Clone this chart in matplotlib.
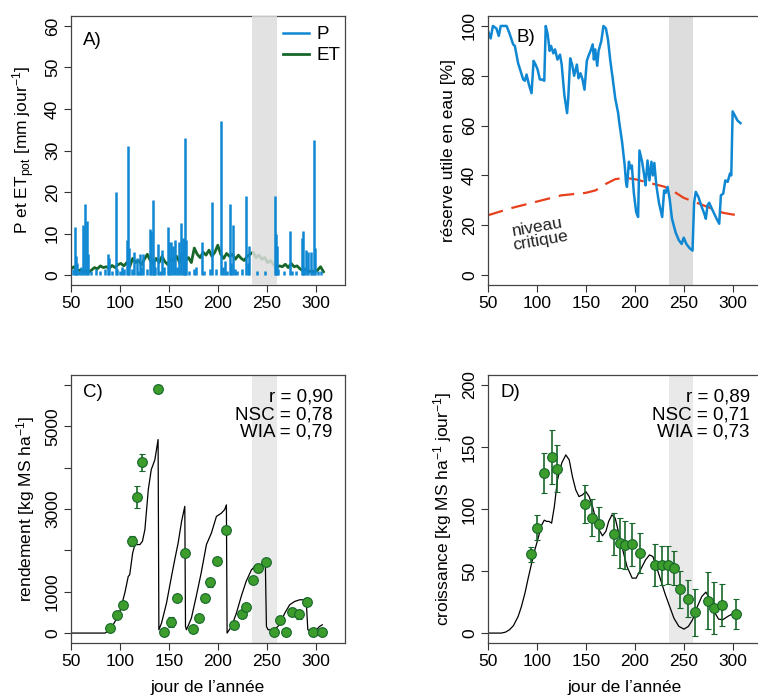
import matplotlib
matplotlib.use("Agg")
import matplotlib.pyplot as plt
from matplotlib import font_manager

# font: narrow sans if available
names = set(f.name for f in font_manager.fontManager.ttflist)
fam = "Liberation Sans Narrow" if "Liberation Sans Narrow" in names else "Liberation Sans"
plt.rcParams['font.family'] = [fam, 'DejaVu Sans']
plt.rcParams['mathtext.fontset'] = 'custom'
plt.rcParams['mathtext.rm'] = fam
plt.rcParams['mathtext.it'] = fam + ':italic'
plt.rcParams['mathtext.default'] = 'rm'
plt.rcParams['axes.unicode_minus'] = False

BLUE = "#0f87d2"
DGREEN = "#17672a"
PGREEN = "#3c9c2c"
RED = "#e8401c"
BAND = "#dcdddc"
BAND2 = "#e9e9e9"
FS = 12.5

# ---- A) precipitation and ET
p_days = [52, 54, 55, 56, 58, 60, 62, 64, 66, 67, 70, 76, 80, 85, 88, 89, 92, 96, 97, 100,
          102, 104, 107, 108, 109, 112, 114, 117, 118, 120, 122, 124, 128, 131, 132, 134, 135,
          136, 139, 141, 143, 145, 149, 150, 152, 154, 156, 158, 160, 162, 164, 165, 167, 168,
          171, 176, 178, 184, 186, 192, 194, 198, 203, 205, 207, 209, 212, 214, 216, 218, 220,
          225, 229, 231, 232, 240, 248, 258, 259, 261, 262, 268, 274, 276, 280, 286, 287, 288,
          290, 292, 295, 296, 298, 299, 302, 305]
p_vals = [1.5, 11.5, 4.5, 3.0, 1.0, 2.0, 12.0, 17.0, 13.0, 5.0, 1.0, 1.5, 1.0, 1.5, 5.0, 4.0,
          1.0, 20.0, 1.5, 1.0, 2.0, 1.5, 8.5, 31.0, 6.5, 1.5, 5.5, 4.0, 1.0, 5.0, 2.0, 5.0, 1.5,
          11.0, 10.5, 18.0, 4.0, 2.0, 7.5, 1.0, 6.0, 2.0, 11.5, 8.0, 8.0, 7.0, 8.5, 2.0, 8.0,
          12.5, 9.0, 8.5, 33.0, 8.5, 1.0, 1.5, 2.0, 8.0, 1.0, 1.5, 17.5, 1.5, 37.0, 2.0, 3.5,
          1.0, 17.0, 3.0, 12.0, 1.5, 1.0, 1.5, 19.0, 3.0, 7.0, 1.0, 1.0, 19.0, 10.0, 7.0, 1.5,
          1.0, 10.5, 1.0, 1.0, 9.0, 10.5, 2.0, 6.0, 5.5, 5.5, 1.0, 32.5, 6.5, 1.0, 1.0]

et_days = list(range(50, 309, 3))
et_vals = [1.5, 2.0, 1.0, 1.2, 0.8, 0.9, 0.7, 1.2, 1.8, 1.5, 2.2, 1.8, 2.0, 1.6, 2.3, 1.8,
           2.5, 2.8, 2.2, 3.0, 2.0, 4.0, 3.0, 3.5, 2.5, 3.8, 5.0, 3.5, 2.8, 4.0, 3.0, 4.5,
           3.2, 2.5, 4.0, 3.5, 4.5, 3.0, 5.0, 3.5, 4.2, 3.0, 6.5, 5.0, 4.2, 5.5, 4.8, 6.0,
           4.5, 5.5, 7.2, 5.0, 4.0, 5.2, 4.5, 5.0, 3.8, 4.8, 4.0, 3.5, 4.5, 5.0, 5.5, 4.2,
           4.8, 3.8, 4.2, 3.0, 3.5, 2.5, 1.8, 2.2, 2.0, 2.6, 1.8, 2.8, 2.0, 2.2, 1.5, 1.0,
           1.3, 0.8, 1.0, 0.7, 1.2, 2.0, 0.8]

# ---- B) soil water reserve
w_days = [50, 52.7, 55, 58.6, 61, 63, 69, 72, 75.7, 77.4, 80.8, 86, 87.7, 89.4, 91.8, 94.5,
          96.6, 98.6, 100.7, 103, 105.5, 107.5, 109, 111, 113, 114.4, 116.8, 118.5, 121,
          123.6, 125.3, 128, 130.8, 132, 134, 136, 138, 140.8, 142.5, 144.5, 146.6, 148.6,
          151, 152.7, 154.8, 157, 158.2, 159.6, 161.6, 163, 165.8, 168, 170.5, 172.6, 175,
          177.4, 180, 183, 184, 187, 189.7, 191, 192, 194, 195.5, 197, 199, 201.4, 203.4,
          204.8, 207.5, 209.6, 211, 213, 215, 217, 218.5, 220, 222, 224.7, 228, 230, 231.5,
          233.5, 235.6, 238, 241.8, 245, 247.9, 250, 252.7, 256, 259, 260.6, 262.3, 265,
          267.8, 271, 272.6, 274.3, 276, 279.5, 283.6, 286.3, 288, 290.4, 292.5, 294.9,
          297.3, 298.6, 300, 302.7, 305, 308]
w_vals = [98, 95, 100, 99, 96, 100, 100, 97, 92.6, 92, 85, 78.5, 78, 80.5, 76.5, 73, 86, 84.5,
          82.5, 78.5, 78.5, 78, 100, 96.6, 90, 92, 89, 90.6, 86.5, 88.5, 84.5, 72.4, 65, 71,
          87, 84.5, 80, 84.5, 79, 81, 78.5, 74.4, 86, 88, 90, 92.6, 86.5, 90.6, 84, 90, 94,
          100, 99, 94.6, 86, 79, 71, 65, 61.6, 53.5, 44, 37.4, 35.4, 45.5, 42.8, 44, 33, 25.3,
          23.3, 50, 45.5, 40, 36, 46, 38, 45.5, 40, 45, 36, 29, 23.3, 34, 33, 35.4, 30.7, 22.6,
          17, 14, 12.5, 15, 12.5, 10.8, 9.8, 29, 33.4, 31.4, 28, 24.6, 22.6, 28, 29, 26, 22.6,
          20.6, 32, 32.7, 38, 37.4, 40.8, 40, 65.7, 63.7, 62, 61]
crit_days = [50, 75, 100, 125, 150, 160, 170, 180, 190, 200, 215, 230, 240, 250, 260, 270,
             280, 290, 300, 308]
crit_vals = [24, 27, 29.5, 32, 33, 34, 36.5, 38.5, 39, 38.5, 37, 35.5, 33.5, 31, 29.5, 28,
             26.5, 25, 24.3, 24]

# ---- C) yield
yld_days = [50, 84.7, 89.8, 95, 100, 105, 108.5, 110, 113, 115.3, 120.4, 123, 125.5, 129, 132,
            135.7, 139, 139.8, 142.5, 147.6, 152.7, 156, 159.5, 163, 166.3, 167, 168, 173, 178,
            183, 188.4, 193.5, 198.6, 203.7, 207, 208.8, 209.5, 214, 219, 224, 229, 234.4,
            239.5, 244.6, 248.6, 249.7, 251.4, 258, 263, 268.4, 273.5, 278.6, 283.7, 288.8,
            290.5, 292, 295.6, 300.7, 304, 306.8]
yld_sim = [0, 0, 80, 280, 525, 970, 1370, 1410, 1935, 2140, 2140, 2220, 2500, 3470, 3950, 4190,
           4680, 80, 240, 725, 1370, 1775, 2180, 2700, 3065, 160, 80, 360, 890, 1450, 2140,
           2420, 2820, 2900, 2985, 3100, 0, 160, 480, 890, 1250, 1530, 1650, 1610, 1690, 160,
           80, 80, 200, 480, 685, 765, 805, 805, 725, 80, 40, 80, 160, 200]
yld_obs_days = [89.8, 96.6, 102.7, 112, 117.3, 122.8, 139, 144.6, 152.7, 158.8, 166.7, 174.5,
                180.6, 187.4, 192.5, 199.7, 208.5, 216.7, 224.5, 228.6, 236.4, 241.5, 249.3,
                257, 263.3, 270, 276.2, 283.3, 291.2, 297.3, 307]
yld_obs = [120, 440, 670, 2225, 3290, 4130, 5910, 15, 260, 840, 1935, 110, 360, 850, 1225,
           1750, 2490, 200, 460, 620, 1275, 1580, 1710, 15, 305, 15, 515, 460, 760, 15, 25]
yld_err = [40, 40, 40, 130, 260, 200, 100, 20, 120, 40, 40, 30, 40, 40, 110, 40, 100, 30, 80,
           40, 40, 100, 40, 20, 60, 20, 80, 110, 80, 20, 20]

# ---- D) growth rate
gr_days = [50, 63.7, 68, 72, 76, 80.8, 84, 87.7, 91, 94.5, 97.5, 100.7, 104.8, 107.5, 110,
           112.3, 115, 117.8, 121, 125.3, 129.5, 133, 136.3, 139.7, 143, 146.6, 150, 153.4,
           156.8, 160.3, 163.7, 167, 170.5, 173.3, 176.7, 180, 183.6, 187.7, 192, 197.3,
           201.4, 205.8, 211, 215, 218.5, 222, 226.4, 230.8, 235.6, 240, 245, 250.3, 254.8,
           259, 264, 268.5, 272.6, 276.7, 281, 285.6, 289.7, 295, 300, 305, 308.5]
gr_sim = [0, 0, 0.8, 2.7, 6, 13.4, 21, 32, 44, 56, 66, 75, 87, 91, 90, 90, 88.6, 102, 123.5,
          137, 143.6, 139.6, 126, 115.4, 110, 111.4, 114, 110, 102, 91.3, 83, 78.4, 82, 90,
          95.3, 92.6, 80.5, 67, 53.7, 44.3, 44.3, 51, 59, 63, 61.7, 53.7, 43, 32, 21.5, 12,
          5.4, 3.2, 5.4, 10.7, 21.5, 29.5, 33, 28, 17.4, 11.3, 10.7, 13.4, 15.6, 16.6, 16]
gr_obs_days = [93.8, 100.3, 107.5, 115, 120.5, 149, 156, 163, 178.4, 185, 190.4, 197, 205,
               221, 228, 233.6, 239.7, 246.6, 254.5, 261.6, 274.7, 281, 288.7, 303.4]
gr_obs = [63.6, 85, 129, 142, 132.6, 104, 93, 88, 80, 72.5, 71, 71.4, 64.4, 55, 54.5, 54.8,
          52.6, 35.2, 27.6, 16.6, 26, 20, 22.5, 15.3]
gr_err = [6, 10, 16.5, 22, 19, 15, 15, 14, 17, 20, 19, 17, 16, 17, 16, 15.5, 13.5, 15, 15, 19,
          23, 21, 17, 12]

band = (235, 260)
xticks = [50, 100, 150, 200, 250, 300]


def style(ax, yticks, ylabels=None):
    ax.set_xlim(50, 330)
    ax.set_xticks(xticks)
    ax.set_yticks(yticks)
    if ylabels is not None:
        ax.set_yticklabels(ylabels)
    ax.tick_params(direction='out', length=5, width=0.8, color='#333333', labelsize=FS,
                   pad=3)
    for lab in ax.get_yticklabels():
        lab.set_rotation(90)
        lab.set_va('center')
    for s in ax.spines.values():
        s.set_color('#444444')
        s.set_linewidth(0.9)


fig = plt.figure(figsize=(7.58, 6.97), dpi=100)
W = 274 / 758
H1 = 269 / 697

# A
axA = fig.add_axes([71 / 758, 1 - 285 / 697, W, H1])
axA.plot(et_days, et_vals, color=DGREEN, lw=2.0, zorder=2)
axA.axvspan(*band, color=BAND, alpha=0.85, lw=0, zorder=3)
axA.vlines(p_days, 0, p_vals, color=BLUE, lw=1.8, zorder=4)
axA.set_ylim(-2.4, 62.4)
style(axA, range(0, 61, 10))
axA.set_ylabel("P et ET$_{\\mathrm{pot}}$ [mm jour$^{-1}$]", fontsize=FS, labelpad=6)
axA.text(0.045, 0.91, "A)", transform=axA.transAxes, fontsize=FS + 1, va='center')
hP, = axA.plot([], [], color=BLUE, lw=1.8)
hE, = axA.plot([], [], color=DGREEN, lw=2.0)
axA.legend([hP, hE], ["P", "ET"], loc='upper right', frameon=False, fontsize=FS + 1,
           handlelength=1.4, handletextpad=0.4, borderaxespad=0.0, labelspacing=0.2,
           bbox_to_anchor=(1.01, 0.99))

# B
axB = fig.add_axes([488 / 758, 1 - 285 / 697, W, H1])
axB.axvspan(*band, color=BAND, lw=0, zorder=0)
axB.plot(crit_days, crit_vals, color=RED, lw=1.6, dashes=(7, 4))
axB.plot(w_days, w_vals, color=BLUE, lw=1.8)
axB.set_ylim(-4, 104)
style(axB, range(0, 101, 20))
axB.set_ylabel("réserve utile en eau [%]", fontsize=FS, labelpad=4)
axB.text(0.105, 0.92, "B)", transform=axB.transAxes, fontsize=FS + 1, va='center')
axB.text(102, 16.5, "niveau\ncritique", fontsize=FS, rotation=10, ha='center', va='center',
         linespacing=0.9, color='#222222')

# C
H2 = 268 / 697
axC = fig.add_axes([71 / 758, 1 - 643 / 697, W, H2])
axC.axvspan(*band, color=BAND2, lw=0, zorder=0)
axC.plot(yld_days, yld_sim, color='black', lw=0.9)
axC.errorbar(yld_obs_days, yld_obs, yerr=yld_err, fmt='o', ms=7, mfc=PGREEN, mec=DGREEN,
             mew=0.8, ecolor=DGREEN, elinewidth=1.2, capsize=2.5, capthick=1.2)
axC.set_ylim(-240, 6240)
style(axC, range(0, 6001, 1000), ['0', '1000', '', '3000', '', '5000', ''])
axC.set_ylabel("rendement [kg MS ha$^{-1}$]", fontsize=FS, labelpad=6)
axC.set_xlabel("jour de l\u2019année", fontsize=FS, labelpad=8)
axC.text(0.045, 0.935, "C)", transform=axC.transAxes, fontsize=FS + 1, va='center')
axC.text(0.955, 0.95, "r = 0,90\nNSC = 0,78\nWIA = 0,79", transform=axC.transAxes,
         fontsize=FS + 1, ha='right', va='top', linespacing=1.05)

# D
axD = fig.add_axes([488 / 758, 1 - 643 / 697, W, H2])
axD.axvspan(*band, color=BAND2, lw=0, zorder=0)
axD.plot(gr_days, gr_sim, color='black', lw=0.9)
axD.errorbar(gr_obs_days, gr_obs, yerr=gr_err, fmt='o', ms=7, mfc=PGREEN, mec=DGREEN,
             mew=0.8, ecolor=DGREEN, elinewidth=1.2, capsize=2.5, capthick=1.2)
axD.set_ylim(-8, 208)
style(axD, range(0, 201, 50))
axD.set_ylabel("croissance [kg MS ha$^{-1}$ jour$^{-1}$]", fontsize=FS, labelpad=6)
axD.set_xlabel("jour de l\u2019année", fontsize=FS, labelpad=8)
axD.text(0.047, 0.935, "D)", transform=axD.transAxes, fontsize=FS + 1, va='center')
axD.text(0.955, 0.95, "r = 0,89\nNSC = 0,71\nWIA = 0,73", transform=axD.transAxes,
         fontsize=FS + 1, ha='right', va='top', linespacing=1.05)

fig.savefig("out.png", dpi=100)
